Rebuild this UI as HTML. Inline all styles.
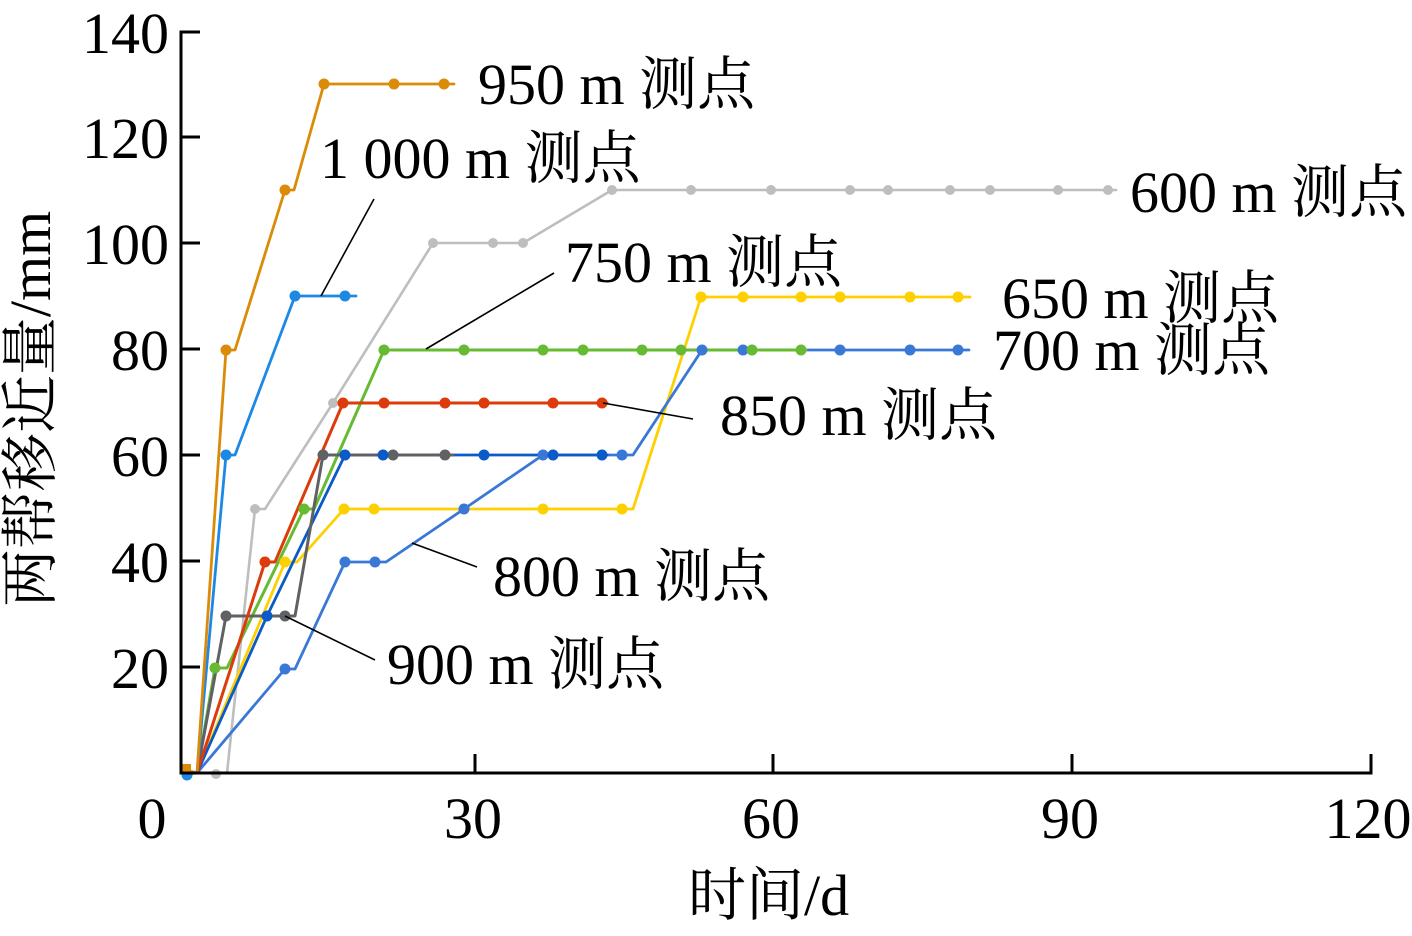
<!DOCTYPE html>
<html>
<head>
<meta charset="utf-8">
<style>
  html, body { margin:0; padding:0; background:#fff; }
  svg { display:block; }
  .t { font-family: "Liberation Serif", "Noto Serif CJK SC", serif; font-size:58px; fill:#000; }
</style>
</head>
<body>
<svg width="1412" height="936" viewBox="0 0 1412 936" xmlns="http://www.w3.org/2000/svg">
  <rect width="1412" height="936" fill="#fff"/>

  <!-- series -->
  <g fill="none" stroke-linejoin="round" stroke-linecap="round">
    <polyline stroke="#BEBEBE" stroke-width="2.6" points="216,773 227,773 255,509 265,509 333,403 433,243 493,243 523,243 612,190 1116,190"/>
    <polyline stroke="#FFD000" stroke-width="2.8" points="197,773 285,562 297,562 344,509 633,509 701,297 970,297"/>
    <polyline stroke="#3A78D8" stroke-width="2.8" points="197,773 285,669 295,669 345,562 386,562 464,509 543,455 633,455 702,350 969,350"/>
    <polyline stroke="#66BB33" stroke-width="3" points="197,773 215,668 227,668 304,509 314,509 384,350 806,350"/>
    <polyline stroke="#0A5AC8" stroke-width="2.8" points="197,773 267,616 345,455 607,455"/>
    <polyline stroke="#5F6164" stroke-width="3" points="197,773 226,616 295,616 323,455 453,455"/>
    <polyline stroke="#DD3B0B" stroke-width="3" points="197,773 265,562 275,562 343,403 607,403"/>
    <polyline stroke="#1E88E5" stroke-width="2.8" points="187,774 197,773 226,455 235,455 295,296 356,296"/>
    <polyline stroke="#DB8B08" stroke-width="2.8" points="186,770 197,773 226,350 235,350 285,190 294,190 324,84 454,84"/>
  </g>

  <!-- markers -->
  <g fill="#BEBEBE">
    <circle cx="216" cy="774" r="5"/><circle cx="255" cy="509" r="5"/><circle cx="333" cy="403" r="5"/>
    <circle cx="433" cy="243" r="5"/><circle cx="493" cy="243" r="5"/><circle cx="523" cy="243" r="5"/>
    <circle cx="612" cy="190" r="5"/><circle cx="691" cy="190" r="5"/><circle cx="771" cy="190" r="5"/>
    <circle cx="850" cy="190" r="5"/><circle cx="888" cy="190" r="5"/><circle cx="950" cy="190" r="5"/>
    <circle cx="990" cy="190" r="5"/><circle cx="1058" cy="190" r="5"/><circle cx="1108" cy="190" r="5"/>
  </g>
  <g fill="#FFD000">
    <circle cx="285" cy="562" r="5.5"/><circle cx="344" cy="509" r="5.5"/><circle cx="374" cy="509" r="5.5"/>
    <circle cx="543" cy="509" r="5.5"/><circle cx="622" cy="509" r="5.5"/><circle cx="701" cy="297" r="5.5"/>
    <circle cx="743" cy="297" r="5.5"/><circle cx="801" cy="297" r="5.5"/><circle cx="840" cy="297" r="5.5"/>
    <circle cx="910" cy="297" r="5.5"/><circle cx="958" cy="297" r="5.5"/>
  </g>
  <g fill="#3A78D8">
    <circle cx="285" cy="669" r="5.5"/><circle cx="345" cy="562" r="5.5"/><circle cx="375" cy="562" r="5.5"/>
    <circle cx="464" cy="509" r="5.5"/><circle cx="543" cy="455" r="5.5"/><circle cx="622" cy="455" r="5.5"/>
    <circle cx="702" cy="350" r="5.5"/><circle cx="743" cy="350" r="5.5"/><circle cx="840" cy="350" r="5.5"/>
    <circle cx="910" cy="350" r="5.5"/><circle cx="958" cy="350" r="5.5"/>
  </g>
  <g fill="#66BB33">
    <circle cx="215" cy="668" r="5.5"/><circle cx="304" cy="509" r="5.5"/><circle cx="384" cy="350" r="5.5"/>
    <circle cx="464" cy="350" r="5.5"/><circle cx="543" cy="350" r="5.5"/><circle cx="583" cy="350" r="5.5"/>
    <circle cx="642" cy="350" r="5.5"/><circle cx="681" cy="350" r="5.5"/><circle cx="752" cy="350" r="5.5"/>
    <circle cx="801" cy="350" r="5.5"/>
  </g>
  <g fill="#5F6164">
    <circle cx="226" cy="616" r="5.5"/><circle cx="285" cy="616" r="5.5"/><circle cx="323" cy="455" r="5.5"/>
    <circle cx="393" cy="455" r="5.5"/><circle cx="445" cy="455" r="5.5"/>
  </g>
  <g fill="#0A5AC8">
    <circle cx="267" cy="616" r="5.5"/><circle cx="345" cy="455" r="5.5"/><circle cx="383" cy="455" r="5.5"/>
    <circle cx="484" cy="455" r="5.5"/><circle cx="553" cy="455" r="5.5"/><circle cx="602" cy="455" r="5.5"/>
  </g>
  <g fill="#DD3B0B">
    <circle cx="265" cy="562" r="5.5"/><circle cx="343" cy="403" r="5.5"/><circle cx="384" cy="403" r="5.5"/>
    <circle cx="445" cy="403" r="5.5"/><circle cx="484" cy="403" r="5.5"/><circle cx="553" cy="403" r="5.5"/>
    <circle cx="602" cy="403" r="5.5"/>
  </g>
  <g fill="#1E88E5">
    <circle cx="187" cy="775" r="5.5"/><circle cx="226" cy="455" r="5.5"/><circle cx="295" cy="296" r="5.5"/>
    <circle cx="345" cy="296" r="5.5"/>
  </g>
  <g fill="#DB8B08">
    <rect x="182" y="764" width="9" height="9"/>
    <circle cx="226" cy="350" r="5.5"/><circle cx="285" cy="190" r="5.5"/><circle cx="324" cy="84" r="5.5"/>
    <circle cx="394" cy="84" r="5.5"/><circle cx="444" cy="84" r="5.5"/>
  </g>

  <!-- leader lines -->
  <g stroke="#000" stroke-width="1.6">
    <line x1="374" y1="199" x2="321" y2="296"/>
    <line x1="554" y1="273" x2="426" y2="349"/>
    <line x1="603" y1="403" x2="693" y2="419"/>
    <line x1="412" y1="543" x2="477" y2="567"/>
    <line x1="285" y1="616" x2="375" y2="660"/>
  </g>

  <!-- axes -->
  <g stroke="#000" stroke-width="3" fill="none">
    <line x1="181" y1="30.5" x2="181" y2="774.5"/>
    <line x1="179.5" y1="773" x2="1372.5" y2="773"/>
    <line x1="181" y1="32" x2="200" y2="32"/>
    <line x1="181" y1="137" x2="200" y2="137"/>
    <line x1="181" y1="243" x2="200" y2="243"/>
    <line x1="181" y1="349" x2="200" y2="349"/>
    <line x1="181" y1="455" x2="200" y2="455"/>
    <line x1="181" y1="561" x2="200" y2="561"/>
    <line x1="181" y1="667" x2="200" y2="667"/>
    <line x1="475" y1="773" x2="475" y2="754"/>
    <line x1="773" y1="773" x2="773" y2="754"/>
    <line x1="1072" y1="773" x2="1072" y2="754"/>
    <line x1="1371" y1="773" x2="1371" y2="754"/>
  </g>

  <!-- y tick labels -->
  <g class="t" text-anchor="end">
    <text x="169" y="53">140</text>
    <text x="169" y="158">120</text>
    <text x="169" y="264">100</text>
    <text x="169" y="370">80</text>
    <text x="169" y="476">60</text>
    <text x="169" y="582">40</text>
    <text x="169" y="688">20</text>
  </g>
  <!-- x tick labels -->
  <g class="t" text-anchor="middle">
    <text x="152" y="838">0</text>
    <text x="473" y="838">30</text>
    <text x="771" y="838">60</text>
    <text x="1070" y="838">90</text>
    <text x="1368" y="838">120</text>
  </g>

  <!-- axis titles -->
  <text class="t" x="688" y="915">时间/d</text>
  <text class="t" text-anchor="middle" transform="translate(50,409) rotate(-90)">两帮移近量/mm</text>

  <!-- series labels -->
  <g class="t">
    <text x="478" y="104">950 m 测点</text>
    <text x="320" y="178">1 000 m 测点</text>
    <text x="1130" y="212">600 m 测点</text>
    <text x="565" y="282">750 m 测点</text>
    <text x="1002" y="318">650 m 测点</text>
    <text x="993" y="370">700 m 测点</text>
    <text x="720" y="435">850 m 测点</text>
    <text x="493" y="596">800 m 测点</text>
    <text x="387" y="684">900 m 测点</text>
  </g>
</svg>
</body>
</html>
